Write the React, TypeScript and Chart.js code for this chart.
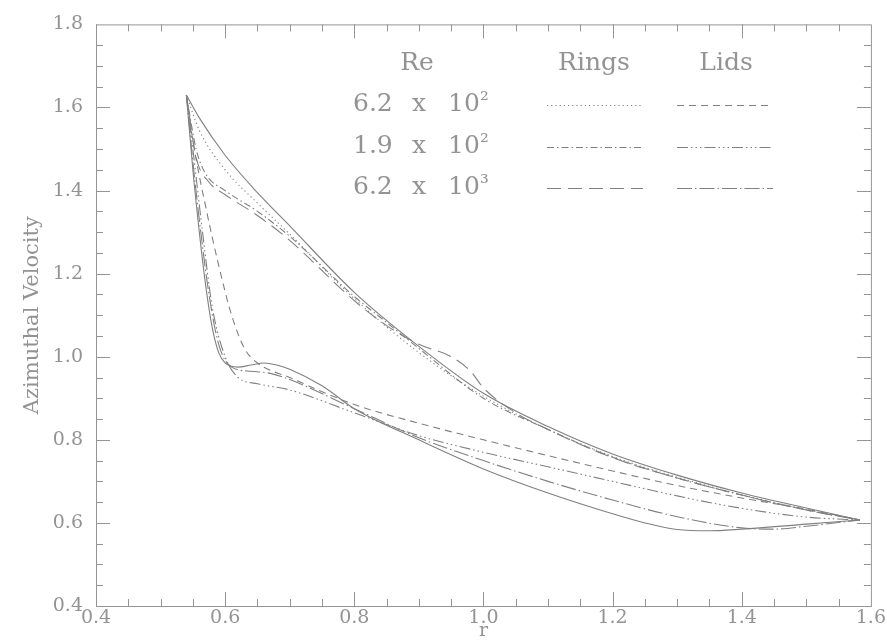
import React, { useEffect, useRef } from "react";
import { Chart, registerables } from "chart.js";

Chart.register(...registerables);

// ---- axes ----
const X_MIN = 0.4;
const X_MAX = 1.6;
const Y_MIN = 0.4;
const Y_MAX = 1.8;
const xTickValues = [0.4, 0.6, 0.8, 1.0, 1.2, 1.4, 1.6];
const yTickValues = [0.4, 0.6, 0.8, 1.0, 1.2, 1.4, 1.6, 1.8];
const xTitle = "r";
const yTitle = "Azimuthal Velocity";

// ---- legend ----
const legendHeaders = ["Re", "Rings", "Lids"];
const reMantissa = ["6.2", "1.9", "6.2"];
const reExponent = ["²", "²", "³"];

// ---- curves ----
// ideal profile (upper solid)
const rUpperSolid = [0.54, 0.56, 0.6, 0.65, 0.7, 0.8, 0.9, 1.0, 1.1, 1.2, 1.3, 1.4, 1.5, 1.583];
const vUpperSolid = [1.63, 1.575, 1.485, 1.395, 1.315, 1.155, 1.025, 0.912, 0.832, 0.766, 0.715, 0.672, 0.636, 0.607];

// lower solid
const rLowerSolid = [0.54, 0.55, 0.56, 0.57, 0.58, 0.59, 0.6, 0.62, 0.64, 0.66, 0.68, 0.7, 0.75, 0.8, 0.9, 1.0, 1.1, 1.2, 1.25, 1.3, 1.35, 1.4, 1.5, 1.583];
const vLowerSolid = [1.63, 1.45, 1.3, 1.17, 1.07, 1.01, 0.985, 0.975, 0.98, 0.985, 0.98, 0.97, 0.93, 0.875, 0.8, 0.73, 0.672, 0.622, 0.6, 0.584, 0.581, 0.585, 0.597, 0.607];

// Rings, Re = 6.2e2 (dotted)
const rRings62e2 = [0.54, 0.56, 0.6, 0.65, 0.7, 0.8, 0.9, 1.0, 1.1, 1.2, 1.3, 1.4, 1.5, 1.583];
const vRings62e2 = [1.63, 1.545, 1.45, 1.37, 1.295, 1.14, 1.01, 0.905, 0.825, 0.76, 0.71, 0.668, 0.632, 0.607];

// Rings, Re = 1.9e2 (dash-dot)
const rRings19e2 = [0.54, 0.555, 0.57, 0.6, 0.65, 0.7, 0.8, 0.84, 0.88, 0.9, 1.0, 1.1, 1.2, 1.3, 1.4, 1.5, 1.583];
const vRings19e2 = [1.63, 1.5, 1.44, 1.4, 1.35, 1.29, 1.145, 1.095, 1.045, 1.02, 0.9, 0.825, 0.758, 0.708, 0.667, 0.631, 0.607];

// Rings, Re = 6.2e3 (long dash)
const rRings62e3 = [0.54, 0.555, 0.575, 0.6, 0.65, 0.7, 0.8, 0.85, 0.9, 0.95, 0.98, 1.0, 1.05, 1.1, 1.2, 1.3, 1.4, 1.5, 1.583];
const vRings62e3 = [1.63, 1.48, 1.42, 1.39, 1.34, 1.28, 1.135, 1.075, 1.03, 1.0, 0.965, 0.925, 0.865, 0.825, 0.757, 0.708, 0.667, 0.631, 0.607];

// Lids, Re = 6.2e2 (dashed)
const rLids62e2 = [0.54, 0.55, 0.57, 0.59, 0.61, 0.63, 0.65, 0.7, 0.8, 0.9, 1.0, 1.1, 1.2, 1.3, 1.4, 1.5, 1.583];
const vLids62e2 = [1.63, 1.52, 1.36, 1.22, 1.1, 1.02, 0.985, 0.95, 0.885, 0.84, 0.8, 0.762, 0.725, 0.69, 0.66, 0.633, 0.607];

// Lids, Re = 1.9e2 (dash-dot-dot-dot)
const rLids19e2 = [0.54, 0.55, 0.565, 0.58, 0.6, 0.62, 0.65, 0.7, 0.8, 0.9, 1.0, 1.1, 1.2, 1.3, 1.4, 1.5, 1.583];
const vLids19e2 = [1.63, 1.5, 1.3, 1.12, 1.0, 0.95, 0.935, 0.92, 0.865, 0.81, 0.77, 0.735, 0.7, 0.665, 0.635, 0.614, 0.607];

// Lids, Re = 6.2e3 (long dash-dot)
const rLids62e3 = [0.54, 0.55, 0.56, 0.575, 0.59, 0.61, 0.64, 0.67, 0.7, 0.8, 0.9, 1.0, 1.1, 1.2, 1.3, 1.4, 1.45, 1.5, 1.583];
const vLids62e3 = [1.63, 1.47, 1.33, 1.15, 1.03, 0.975, 0.965, 0.96, 0.945, 0.875, 0.805, 0.75, 0.7, 0.655, 0.615, 0.588, 0.585, 0.592, 0.607];

const LINE = "#808080";
const TEXT = "#939393";
const FRAME = "#959595";
const SERIF = '"DejaVu Serif", "Liberation Serif", serif';

const DASH_DOT = [1.2, 3];
const DASH_DASHDOT = [7, 3, 1.5, 3];
const DASH_LONG = [14, 7];
const DASH_DASH = [7, 5];
const DASH_DD3 = [11, 3, 1.5, 3, 1.5, 3, 1.5, 3];
const DASH_LONGDOT = [15, 3, 1.5, 3];

function pts(r: number[], v: number[]) {
  return r.map((x, i) => ({ x, y: v[i] }));
}

function ds(label: string, r: number[], v: number[], dash: number[]) {
  return {
    label,
    data: pts(r, v),
    borderColor: LINE,
    borderWidth: 1.1,
    borderDash: dash,
    pointRadius: 0,
    fill: false,
    cubicInterpolationMode: "monotone" as const,
  };
}

const legendSamples = [
  [DASH_DOT, DASH_DASH],
  [DASH_DASHDOT, DASH_DD3],
  [DASH_LONG, DASH_LONGDOT],
];

const framePlugin = {
  id: "frameTicks",
  afterDatasetsDraw(chart: any) {
    const { ctx, chartArea, scales } = chart;
    const { left, right, top, bottom } = chartArea;
    ctx.save();
    ctx.strokeStyle = FRAME;
    ctx.lineWidth = 1;
    ctx.setLineDash([]);
    ctx.strokeRect(left + 0.5, top + 0.5, right - left, bottom - top);
    const major = 14;
    const minor = 7;
    ctx.beginPath();
    const xs = scales.x;
    for (let i = 0; i < xTickValues.length - 1; i++) {
      const a = xTickValues[i];
      const b = xTickValues[i + 1];
      for (let k = 0; k < 4; k++) {
        const val = a + ((b - a) * k) / 4;
        const len = k === 0 ? major : minor;
        const px = Math.round(xs.getPixelForValue(val)) + 0.5;
        ctx.moveTo(px, bottom);
        ctx.lineTo(px, bottom - len);
        ctx.moveTo(px, top);
        ctx.lineTo(px, top + len);
      }
    }
    const ys = scales.y;
    for (let i = 0; i < yTickValues.length - 1; i++) {
      const a = yTickValues[i];
      const b = yTickValues[i + 1];
      for (let k = 0; k < 4; k++) {
        const val = a + ((b - a) * k) / 4;
        const len = k === 0 ? major : minor;
        const py = Math.round(ys.getPixelForValue(val)) + 0.5;
        ctx.moveTo(left, py);
        ctx.lineTo(left + len, py);
        ctx.moveTo(right, py);
        ctx.lineTo(right - len, py);
      }
    }
    ctx.stroke();

    // legend
    ctx.fillStyle = TEXT;
    ctx.font = `25px ${SERIF}`;
    ctx.textBaseline = "middle";
    ctx.textAlign = "center";
    const headerX = [417, 594, 726];
    legendHeaders.forEach((h, i) => ctx.fillText(h, headerX[i], 63));
    const rowY = [104, 146, 187];
    ctx.textAlign = "left";
    reMantissa.forEach((m, i) => {
      const y = rowY[i];
      ctx.font = `25px ${SERIF}`;
      ctx.fillText(m, 353, y);
      ctx.fillText("x", 412, y);
      ctx.fillText("10", 448, y);
      ctx.font = `22px ${SERIF}`;
      ctx.fillText(reExponent[i], 480, y - 3);
    });
    ctx.strokeStyle = LINE;
    ctx.lineWidth = 1.1;
    legendSamples.forEach((pair, i) => {
      const y = rowY[i] + 1.5;
      ctx.setLineDash(pair[0]);
      ctx.beginPath();
      ctx.moveTo(547, y);
      ctx.lineTo(643, y);
      ctx.stroke();
      ctx.setLineDash(pair[1]);
      ctx.beginPath();
      ctx.moveTo(677, y);
      ctx.lineTo(773, y);
      ctx.stroke();
    });
    ctx.restore();
  },
};

export default function App() {
  const ref = useRef<HTMLCanvasElement | null>(null);
  useEffect(() => {
    if (!ref.current) return;
    const chart = new Chart(ref.current, {
      type: "line",
      data: {
        datasets: [
          ds("upper", rUpperSolid, vUpperSolid, []),
          ds("lower", rLowerSolid, vLowerSolid, []),
          ds("Rings 6.2e2", rRings62e2, vRings62e2, DASH_DOT),
          ds("Rings 1.9e2", rRings19e2, vRings19e2, DASH_DASHDOT),
          ds("Rings 6.2e3", rRings62e3, vRings62e3, DASH_LONG),
          ds("Lids 6.2e2", rLids62e2, vLids62e2, DASH_DASH),
          ds("Lids 1.9e2", rLids19e2, vLids19e2, DASH_DD3),
          ds("Lids 6.2e3", rLids62e3, vLids62e3, DASH_LONGDOT),
        ],
      },
      options: {
        responsive: false,
        animation: false,
        layout: { padding: { left: 0, right: 16, top: 17, bottom: 0 } },
        plugins: { legend: { display: false }, tooltip: { enabled: false } },
        scales: {
          x: {
            type: "linear",
            min: X_MIN,
            max: X_MAX,
            afterFit: (s: any) => {
              s.height = 35;
            },
            afterBuildTicks: (s: any) => {
              s.ticks = xTickValues.map((value) => ({ value }));
            },
            grid: { display: false, drawTicks: false },
            border: { display: false },
            ticks: {
              autoSkip: false,
              maxRotation: 0,
              padding: 1,
              color: TEXT,
              font: { family: SERIF, size: 19 },
              callback: (v: any) => Number(v).toFixed(1),
            },
            title: {
              display: true,
              text: xTitle,
              color: TEXT,
              font: { family: SERIF, size: 19, lineHeight: 1 },
              padding: { top: 0, bottom: 0 },
            },
          },
          y: {
            type: "linear",
            min: Y_MIN,
            max: Y_MAX,
            afterFit: (s: any) => {
              s.width = 96;
            },
            afterBuildTicks: (s: any) => {
              s.ticks = yTickValues.map((value) => ({ value }));
            },
            grid: { display: false, drawTicks: false },
            border: { display: false },
            ticks: {
              autoSkip: false,
              padding: 13,
              color: TEXT,
              font: { family: SERIF, size: 19 },
              callback: (v: any) => Number(v).toFixed(1),
            },
            title: {
              display: true,
              text: yTitle,
              color: TEXT,
              font: { family: SERIF, size: 21 },
              padding: { top: 20, bottom: 0 },
            },
          },
        },
      },
      plugins: [framePlugin],
    });
    return () => chart.destroy();
  }, []);
  return (
    <div style={{ position: "fixed", left: 0, top: 0, width: 887, height: 641, background: "#fff" }}>
      <canvas ref={ref} width={887} height={641} style={{ display: "block" }} />
    </div>
  );
}
